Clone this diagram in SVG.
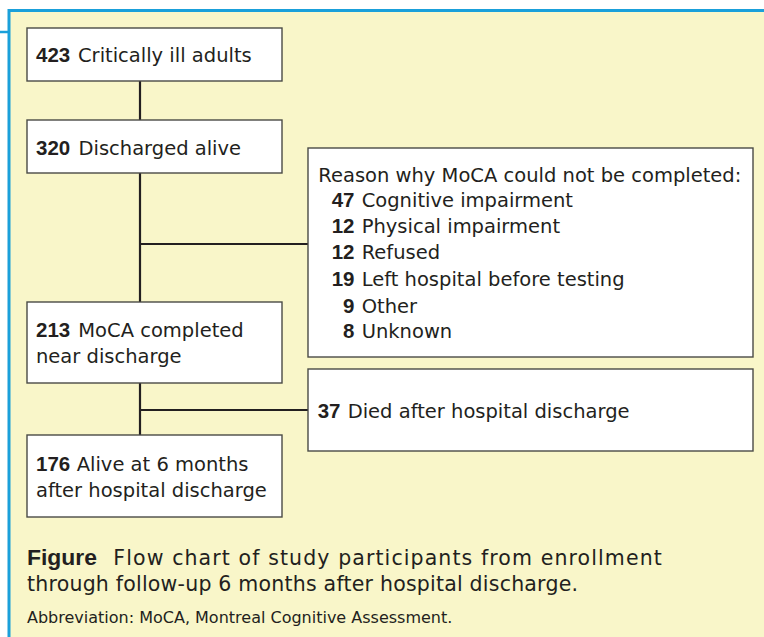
<svg xmlns="http://www.w3.org/2000/svg" width="764" height="637" viewBox="0 0 764 637">
<style>
text{font-family:"DejaVu Sans","Liberation Sans",sans-serif;fill:#231f20;font-size:19.5px}
.b{font-family:"Liberation Sans",Arial,sans-serif;font-weight:bold;font-size:20.5px}
.box{fill:#fff;stroke:#4a4a46;stroke-width:1.4}
.con{stroke:#231f20;stroke-width:2.2;fill:none}
.cap{font-size:20.5px}
.capb{font-family:"Liberation Sans",Arial,sans-serif;font-weight:bold;font-size:22px}
.abbr{font-size:16px}
</style>
<rect x="9" y="10.5" width="770" height="640" fill="#f9f6c9" stroke="#1aa0da" stroke-width="3"/>
<line x1="0" y1="32" x2="9" y2="32" stroke="#1aa0da" stroke-width="2.5"/>
<g id="connectors">
<line class="con" x1="140" y1="81" x2="140" y2="120"/>
<line class="con" x1="140" y1="173" x2="140" y2="302"/>
<line class="con" x1="140" y1="383" x2="140" y2="435"/>
<line class="con" x1="139" y1="244" x2="308" y2="244"/>
<line class="con" x1="139" y1="410" x2="308" y2="410"/>
</g>
<g id="n1">
<rect class="box" x="27" y="28" width="255" height="53"/>
<text x="36" y="62"><tspan class="b">423</tspan><tspan x="78">Critically ill adults</tspan></text>
</g>
<g id="n2">
<rect class="box" x="27" y="120" width="255" height="53"/>
<text x="36" y="154.5"><tspan class="b">320</tspan><tspan x="78.5">Discharged alive</tspan></text>
</g>
<g id="n3">
<rect class="box" x="27" y="302" width="255" height="81"/>
<text x="36" y="336.7"><tspan class="b">213</tspan><tspan x="78.3">MoCA completed</tspan></text>
<text x="36" y="363.3">near discharge</text>
</g>
<g id="n4">
<rect class="box" x="27" y="435" width="255" height="82"/>
<text x="36" y="470.7"><tspan class="b">176</tspan><tspan x="76.7">Alive at 6 months</tspan></text>
<text x="36" y="496.7">after hospital discharge</text>
</g>
<g id="reasons">
<rect class="box" x="308" y="148" width="445" height="209"/>
<text x="318.3" y="181.7">Reason why MoCA could not be completed:</text>
<text class="b" x="354.5" y="207.3" text-anchor="end">47</text><text x="361.7" y="207.3">Cognitive impairment</text>
<text class="b" x="354.5" y="233.3" text-anchor="end">12</text><text x="361.7" y="233.3">Physical impairment</text>
<text class="b" x="354.5" y="259.3" text-anchor="end">12</text><text x="361.7" y="259.3">Refused</text>
<text class="b" x="354.5" y="285.7" text-anchor="end">19</text><text x="361.7" y="285.7">Left hospital before testing</text>
<text class="b" x="354.5" y="312.7" text-anchor="end">9</text><text x="361.7" y="312.7">Other</text>
<text class="b" x="354.5" y="338.3" text-anchor="end">8</text><text x="361.7" y="338.3">Unknown</text>
</g>
<g id="died">
<rect class="box" x="308" y="369" width="445" height="82"/>
<text x="317.7" y="418.3"><tspan class="b">37</tspan><tspan x="347.7">Died after hospital discharge</tspan></text>
</g>
<g id="caption">
<text class="capb" x="27" y="565" textLength="70" lengthAdjust="spacingAndGlyphs">Figure</text>
<text class="cap" x="113.3" y="565" textLength="548.5" lengthAdjust="spacing">Flow chart of study participants from enrollment</text>
<text class="cap" x="27" y="591" textLength="551" lengthAdjust="spacing">through follow-up 6 months after hospital discharge.</text>
<text class="abbr" x="27" y="623.3">Abbreviation: MoCA, Montreal Cognitive Assessment.</text>
</g>
</svg>
